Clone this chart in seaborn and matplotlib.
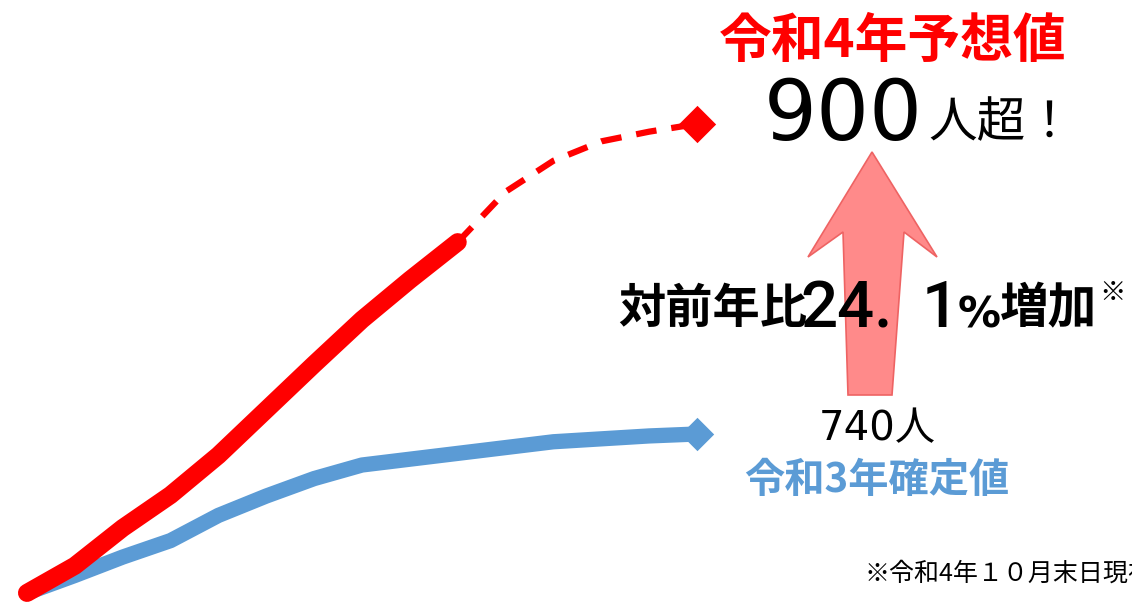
import matplotlib
matplotlib.use("Agg")
import matplotlib.pyplot as plt
import seaborn as sns
import pandas as pd
from matplotlib.patches import Polygon

# ---------------- data ----------------
r3_period = list(range(15))
r3_values = [658, 667, 676.5, 685, 698, 708, 717, 724, 727, 730, 733, 736, 737.5, 739, 740]
r4_actual_period = list(range(10))
r4_actual_values = [658, 672, 691.5, 708.5, 729, 752.5, 776, 799, 819.5, 839]
r4_forecast_period = [9, 10, 11, 12, 13, 14]
r4_forecast_values = [839, 865, 881, 891, 896, 900]

title_r4 = "令和4年予想値"
big_number = "900"
big_suffix = "人超！"
growth_prefix = "対前年比"
growth_int = "24."
growth_dec = "1"
growth_pct = "%"
growth_suffix = "増加"
growth_mark = "※"
r3_number = "740人"
r3_label = "令和3年確定値"
footnote = "※令和4年１０月末日現在"

# ---------------- style ----------------
RED = "#FF0000"
BLUE = "#5B9BD5"
W, H = 1132, 607

sns.set_theme(style="white")
plt.rcParams["font.family"] = ["Noto Sans CJK JP", "DejaVu Sans"]

fig = plt.figure(figsize=(W / 100, H / 100), dpi=100)
ax = fig.add_axes([0, 0, 1, 1])
ax.set_axis_off()

df_r3 = pd.DataFrame({"period": r3_period, "value": r3_values})
df_r4a = pd.DataFrame({"period": r4_actual_period, "value": r4_actual_values})
df_r4f = pd.DataFrame({"period": r4_forecast_period, "value": r4_forecast_values})

sns.lineplot(data=df_r3, x="period", y="value", ax=ax, color=BLUE, linewidth=11,
             solid_capstyle="butt", solid_joinstyle="round", zorder=2)
sns.lineplot(data=df_r4f, x="period", y="value", ax=ax, color=RED, linewidth=4.5,
             linestyle=(0, (3.3, 2.4)), dash_capstyle="butt", dash_joinstyle="round", zorder=3)
sns.lineplot(data=df_r4a, x="period", y="value", ax=ax, color=RED, linewidth=13,
             solid_capstyle="round", solid_joinstyle="round", zorder=4)
sns.scatterplot(data=df_r3.iloc[[-1]], x="period", y="value", ax=ax, color=BLUE,
                marker="D", s=17 ** 2, linewidth=0, zorder=5)
sns.scatterplot(data=df_r4f.iloc[[-1]], x="period", y="value", ax=ax, color=RED,
                marker="D", s=19 ** 2, linewidth=0, zorder=5)

# axis scaling so the chart occupies the same area as the reference
x_step = 47.857
ax.set_xlim(-27 / x_step, (W - 27) / x_step)
k = 0.516
ax.set_ylim(740 - (H - 434) * k, 740 + 434 * k)
if ax.get_legend():
    ax.get_legend().remove()


def P(x, y):
    return x / W, 1 - y / H


# arrow
arrow_px = [(872, 152), (937, 257), (904, 232), (892, 395), (848, 395), (843, 232), (808, 257)]
arrow = Polygon([P(x, y) for x, y in arrow_px], closed=True, transform=fig.transFigure,
                facecolor="#FF8A8A", edgecolor="#EE6363", linewidth=1.2, zorder=1)
ax.add_patch(arrow)

# texts
fig.text(*P(893, 41), title_r4, ha="center", va="center", fontsize=38, color=RED,
         fontweight="bold", family="Noto Sans CJK JP")
fig.text(*P(923, 140), big_number, ha="right", va="baseline", fontsize=60, color="black",
         family="DejaVu Sans")
fig.text(*P(928, 137), big_suffix, ha="left", va="baseline", fontsize=35, color="black",
         family="Noto Sans CJK JP")

# growth annotation, pieced together like the reference typography
base = 323
fig.text(*P(618, base), growth_prefix, ha="left", va="baseline", fontsize=34,
         color="black", fontweight="bold", family="Noto Sans CJK JP")
fig.text(*P(800, base + 4), growth_int, ha="left", va="baseline", fontsize=47,
         color="black", fontweight="medium", family="Roboto")
fig.text(*P(922, base + 4), growth_dec, ha="left", va="baseline", fontsize=47,
         color="black", fontweight="medium", family="Roboto")
fig.text(*P(958, base + 4), growth_pct, ha="left", va="baseline", fontsize=31,
         color="black", fontweight="bold", family="DejaVu Sans")
fig.text(*P(1000, base), growth_suffix, ha="left", va="baseline", fontsize=35,
         color="black", fontweight="bold", family="Noto Sans CJK JP")
fig.text(*P(1099, 279), growth_mark, ha="left", va="top", fontsize=19, color="black",
         fontweight="bold", family="Noto Sans CJK JP")

fig.text(*P(877, 429), r3_number, ha="center", va="center", fontsize=29, color="black",
         family=["DejaVu Sans", "Noto Sans CJK JP"])
fig.text(*P(877, 480), r3_label, ha="center", va="center", fontsize=29, color=BLUE,
         fontweight="bold", family="Noto Sans CJK JP")
fig.text(*P(865, 574), footnote, ha="left", va="center", fontsize=18, color="black",
         family="Noto Sans CJK JP")

fig.savefig("out.png", dpi=100)
